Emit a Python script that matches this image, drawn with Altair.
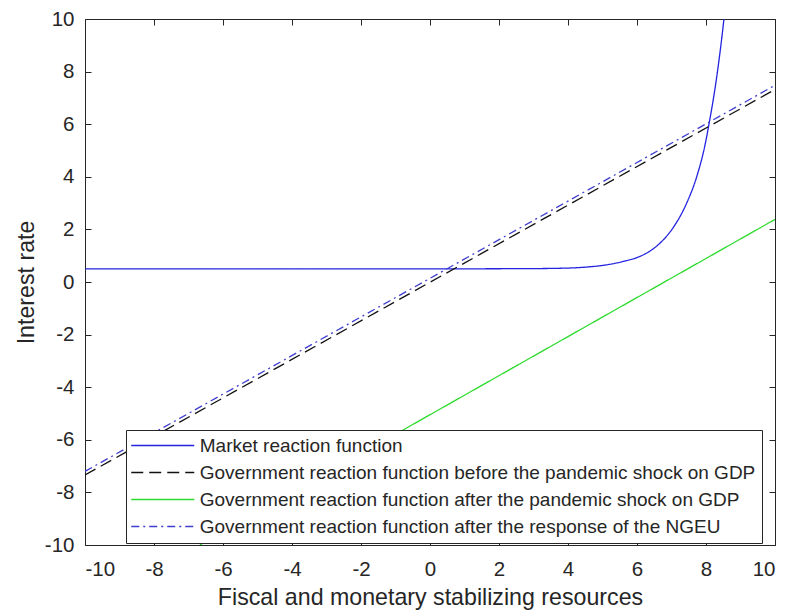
import altair as alt
import pandas as pd

# Series labels, in legend order
S_MARKET = "Market reaction function"
S_BEFORE = "Government reaction function before the pandemic shock on GDP"
S_AFTER = "Government reaction function after the pandemic shock on GDP"
S_NGEU = "Government reaction function after the response of the NGEU"
series_order = [S_MARKET, S_BEFORE, S_AFTER, S_NGEU]

# Market reaction function: flat, then explodes
market_x = [-10, 0, 3, 4, 4.64, 5, 5.6, 6, 6.38, 6.7, 7.05, 7.44, 7.73, 7.97, 8.1, 8.3, 8.52, 8.6]
market_y = [0.5, 0.5, 0.51, 0.53, 0.58, 0.63, 0.78, 0.93, 1.18, 1.52, 2.07, 3.0, 4.0, 5.2, 6.1, 7.7, 10.0, 11.0]

# Government reaction functions (straight lines)
before_x = [-10, 10]
before_y = [-7.34, 7.32]
after_x = [-6.67, 10]
after_y = [-10.0, 2.38]
ngeu_x = [-10, 10]
ngeu_y = [-7.2, 7.48]

tick_values = [-10, -8, -6, -4, -2, 0, 2, 4, 6, 8, 10]

rows = []
for name, xs, ys in [
    (S_MARKET, market_x, market_y),
    (S_BEFORE, before_x, before_y),
    (S_AFTER, after_x, after_y),
    (S_NGEU, ngeu_x, ngeu_y),
]:
    for x, y in zip(xs, ys):
        rows.append({"series": name, "x": x, "y": y})
df = pd.DataFrame(rows)

W, H = 690, 526
TICK = 6
FONT = "Liberation Sans"
INK = "#262626"

# grid dashes leave only short inward ticks at both ends of each gridline
x_grid_dash = [TICK, H - 2 * TICK, TICK, 2000]
y_grid_dash = [TICK, W - 2 * TICK, TICK, 2000]

# plain hyphen for negative tick labels
plain_label = "'' + datum.value"

# legend sample: a horizontal stroke six units long each side of centre
SYMBOL_PATH = "M-6,0H6"
SYMBOL_SIZE = 110.25  # sqrt(size)=10.5 -> stroke length 63 px

chart = (
    alt.Chart(df)
    .mark_line(clip=True, strokeWidth=1.3, interpolate="monotone")
    .encode(
        x=alt.X(
            "x:Q",
            scale=alt.Scale(domain=[-10, 10], nice=False, zero=False),
            axis=alt.Axis(
                values=tick_values,
                labelExpr=plain_label,
                title="Fiscal and monetary stabilizing resources",
                grid=True,
                gridDash=x_grid_dash,
                gridColor=INK,
                gridOpacity=1,
                ticks=False,
                domain=False,
                labelPadding=14,
                titlePadding=7,
            ),
        ),
        y=alt.Y(
            "y:Q",
            scale=alt.Scale(domain=[-10, 10], nice=False, zero=False),
            axis=alt.Axis(
                values=tick_values,
                labelExpr=plain_label,
                title="Interest rate",
                grid=True,
                gridDash=y_grid_dash,
                gridColor=INK,
                gridOpacity=1,
                ticks=False,
                domain=False,
                labelPadding=11,
                titlePadding=6,
            ),
        ),
        color=alt.Color(
            "series:N",
            sort=series_order,
            scale=alt.Scale(
                domain=series_order,
                range=["#2323e0", "#111111", "#2edb2e", "#3f3fd0"],
            ),
            legend=alt.Legend(title=None),
        ),
        strokeDash=alt.StrokeDash(
            "series:N",
            sort=series_order,
            scale=alt.Scale(
                domain=series_order,
                range=[[1, 0], [12, 6], [1, 0], [8, 4, 2, 4]],
            ),
            legend=alt.Legend(title=None),
        ),
        detail="series:N",
    )
    .properties(
        width=W,
        height=H,
        autosize=alt.AutoSizeParams(type="none"),
        padding={"left": 85, "top": 19, "right": 13, "bottom": 69},
    )
    .configure_view(stroke=INK, strokeWidth=1)
    .configure_axis(
        labelFont=FONT,
        labelFontSize=20.5,
        labelColor=INK,
        titleFont=FONT,
        titleFontSize=23.2,
        titleFontWeight="normal",
        titleColor=INK,
    )
    .configure_legend(
        orient="none",
        legendX=41,
        legendY=411,
        strokeColor=INK,
        fillColor="white",
        padding=6,
        cornerRadius=0,
        labelFont=FONT,
        labelFontSize=19,
        labelColor=INK,
        labelLimit=1000,
        symbolType=SYMBOL_PATH,
        symbolSize=SYMBOL_SIZE,
        symbolOffset=21.25,
        labelOffset=27.5,
        symbolStrokeWidth=1.3,
        rowPadding=7,
    )
)

chart.save("out.html", embed_options={"renderer": "svg", "actions": False})
